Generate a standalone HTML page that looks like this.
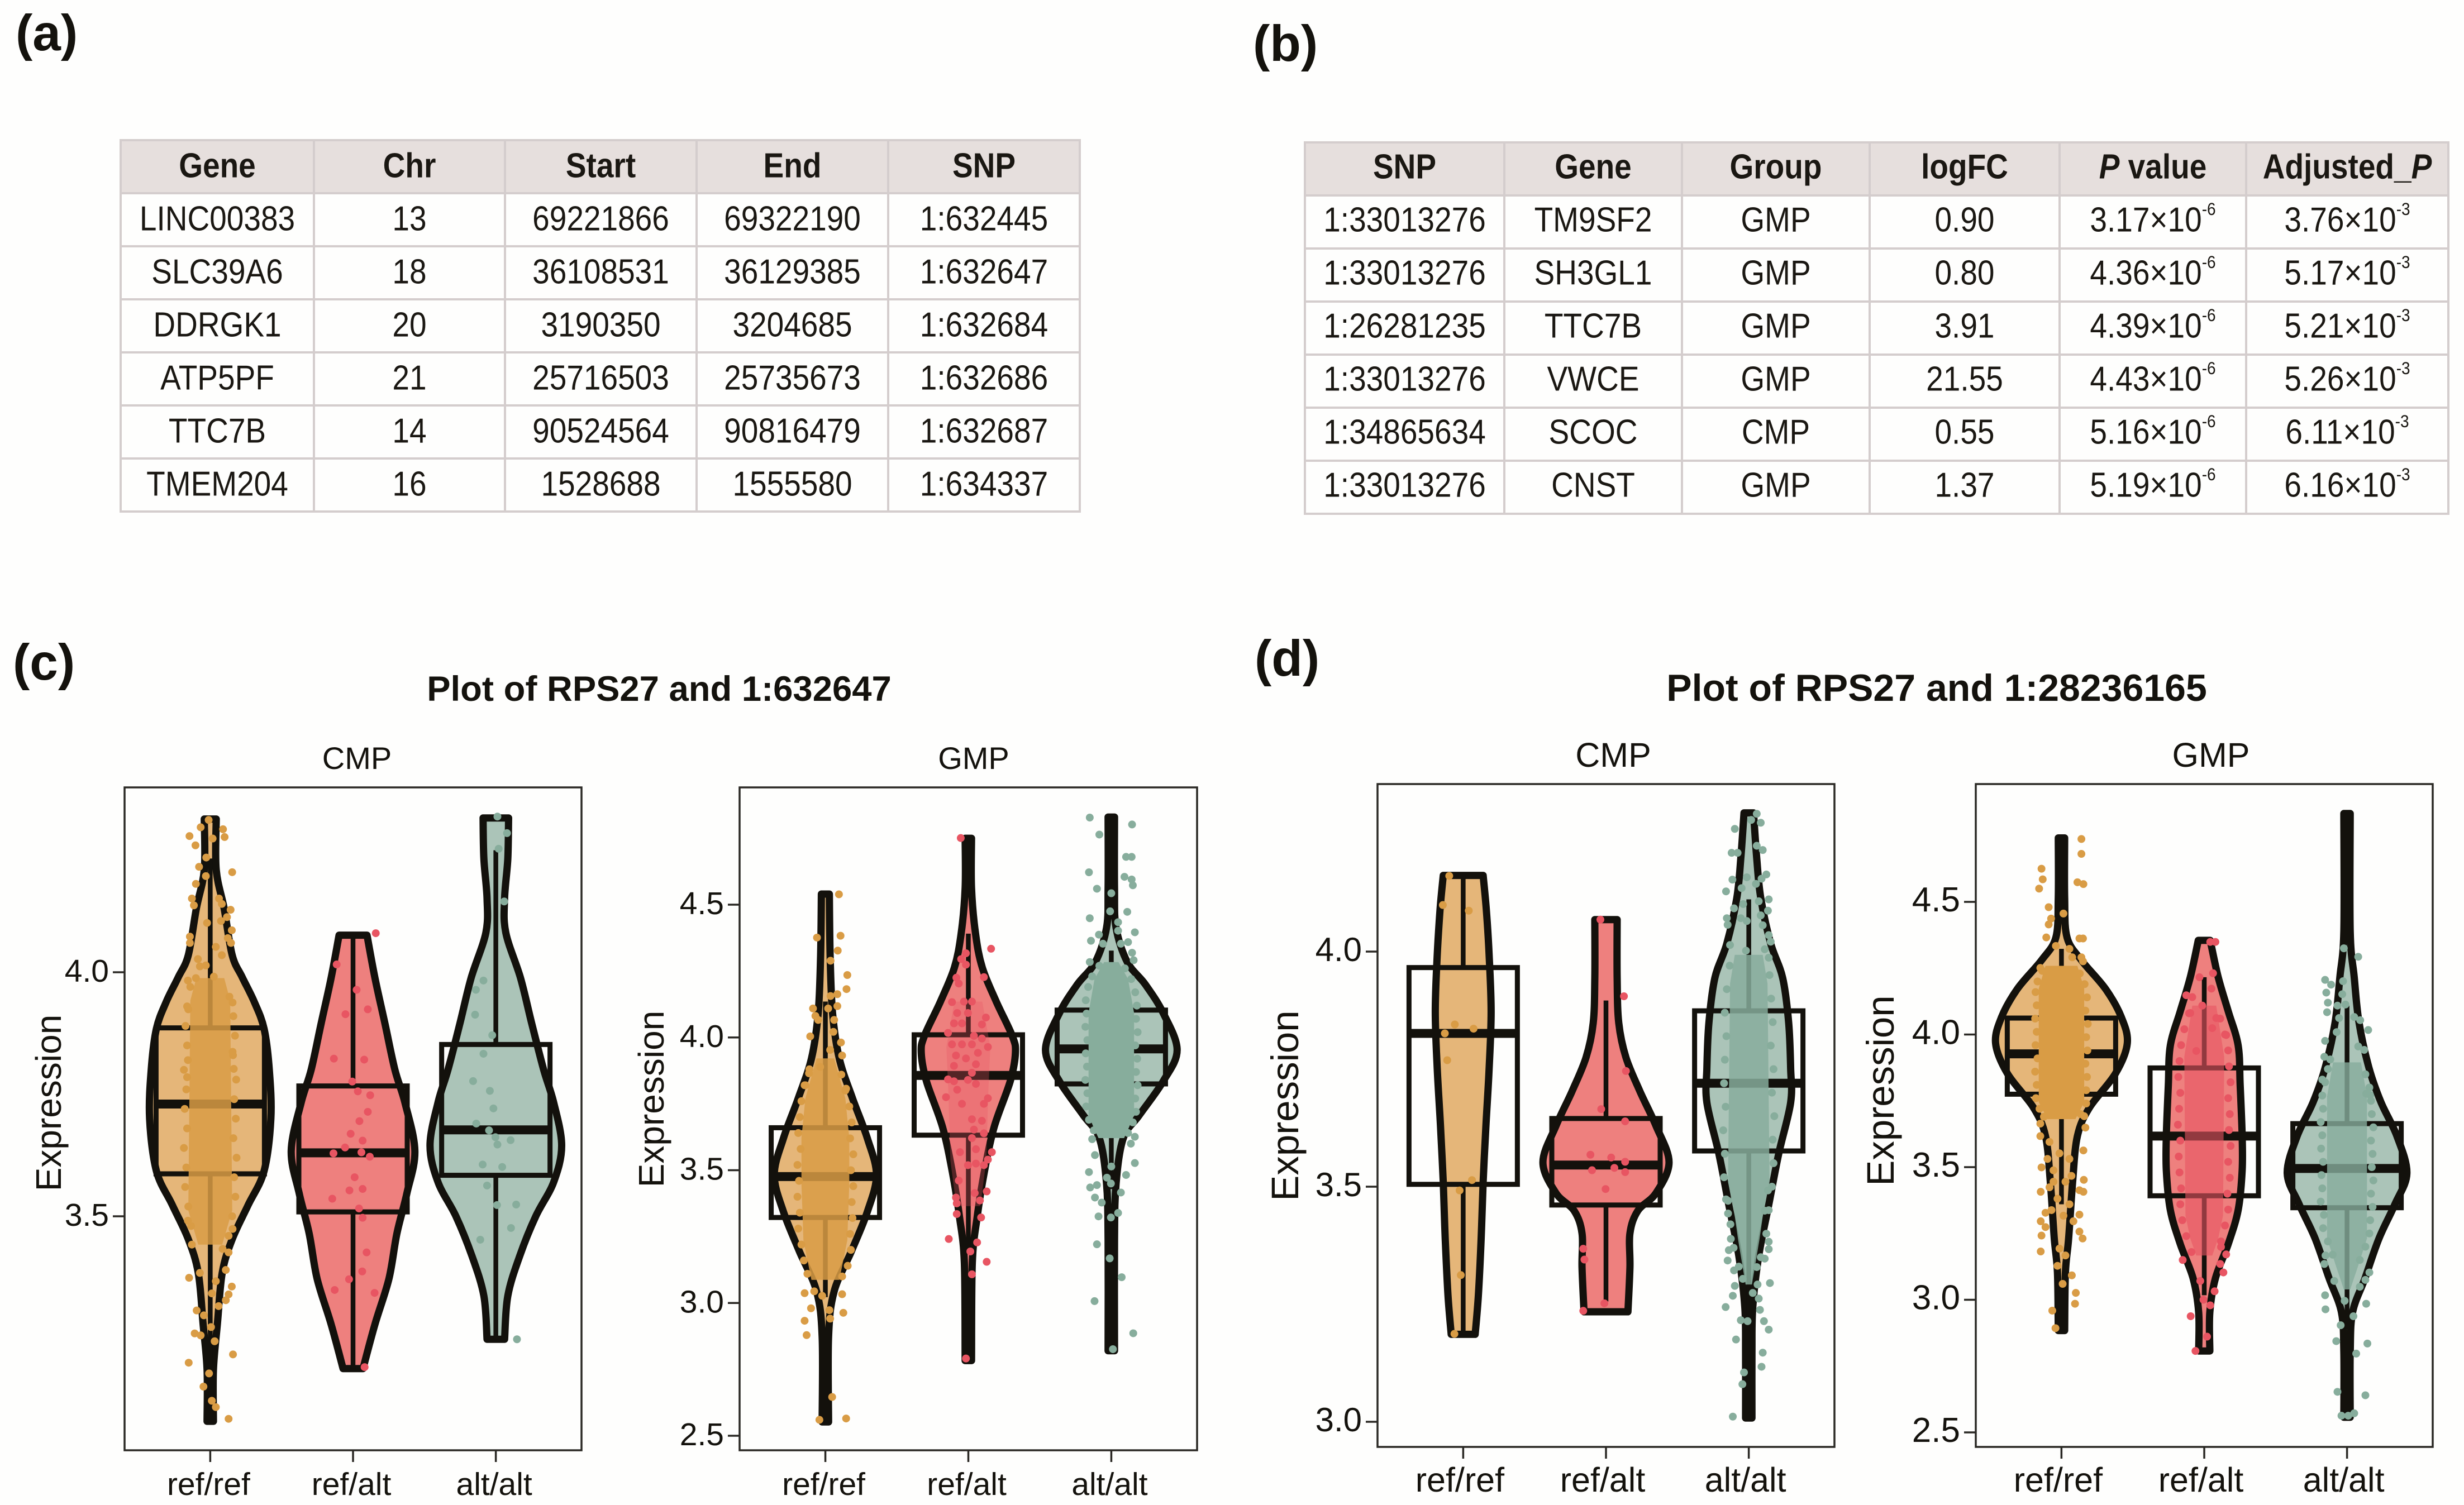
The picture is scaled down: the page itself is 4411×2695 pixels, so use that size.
<!DOCTYPE html>
<html lang="en">
<head>
<meta charset="utf-8">
<title>RPS27 eQTL tables and violin plots</title>
<style>
html,body{margin:0;padding:0;background:#fefefd;}
#page{position:relative;width:4411px;height:2695px;overflow:hidden;background:#fefefd;font-family:"Liberation Sans",sans-serif;color:#1a1712;}
table{position:absolute;table-layout:fixed;border-collapse:collapse;font-size:55px;text-align:center;}
th,td{border:4px solid #d4cdcd;padding:0;overflow:visible;white-space:nowrap;vertical-align:middle;}
th{background:#e6dfdd;font-size:55px;font-weight:bold;}
tr{height:95px;}
sup{font-size:28px;line-height:0;vertical-align:26px;}
.cell-text{display:inline-block;line-height:1;}
#table-a .cell-text{transform:translateY(-3px) scaleY(1.13);}
#table-b .cell-text{transform:translateY(-5px) scaleY(1.13);}
#chart{position:absolute;left:0;top:0;}
#chart text{font-family:"Liberation Sans",sans-serif;fill:#14120d;}
</style>
</head>
<body>
<div id="page">

<table id="table-a" style="left:214px;top:249px;width:1717px;height:668px;">
<colgroup><col style="width:346px"><col style="width:342px"><col style="width:343px"><col style="width:343px"><col style="width:343px"></colgroup>
<tr><th>Gene</th><th>Chr</th><th>Start</th><th>End</th><th>SNP</th></tr>
<tr><td>LINC00383</td><td>13</td><td>69221866</td><td>69322190</td><td>1:632445</td></tr>
<tr><td>SLC39A6</td><td>18</td><td>36108531</td><td>36129385</td><td>1:632647</td></tr>
<tr><td>DDRGK1</td><td>20</td><td>3190350</td><td>3204685</td><td>1:632684</td></tr>
<tr><td>ATP5PF</td><td>21</td><td>25716503</td><td>25735673</td><td>1:632686</td></tr>
<tr><td>TTC7B</td><td>14</td><td>90524564</td><td>90816479</td><td>1:632687</td></tr>
<tr><td>TMEM204</td><td>16</td><td>1528688</td><td>1555580</td><td>1:634337</td></tr>
</table>

<table id="table-b" style="left:2334px;top:253px;width:2047px;height:663px;">
<colgroup><col style="width:357px"><col style="width:318px"><col style="width:336px"><col style="width:340px"><col style="width:334px"><col style="width:362px"></colgroup>
<tr><th>SNP</th><th>Gene</th><th>Group</th><th>logFC</th><th><i>P</i> value</th><th>Adjusted_<i>P</i></th></tr>
<tr><td>1:33013276</td><td>TM9SF2</td><td>GMP</td><td>0.90</td><td>3.17×10<sup>-6</sup></td><td>3.76×10<sup>-3</sup></td></tr>
<tr><td>1:33013276</td><td>SH3GL1</td><td>GMP</td><td>0.80</td><td>4.36×10<sup>-6</sup></td><td>5.17×10<sup>-3</sup></td></tr>
<tr><td>1:26281235</td><td>TTC7B</td><td>GMP</td><td>3.91</td><td>4.39×10<sup>-6</sup></td><td>5.21×10<sup>-3</sup></td></tr>
<tr><td>1:33013276</td><td>VWCE</td><td>GMP</td><td>21.55</td><td>4.43×10<sup>-6</sup></td><td>5.26×10<sup>-3</sup></td></tr>
<tr><td>1:34865634</td><td>SCOC</td><td>CMP</td><td>0.55</td><td>5.16×10<sup>-6</sup></td><td>6.11×10<sup>-3</sup></td></tr>
<tr><td>1:33013276</td><td>CNST</td><td>GMP</td><td>1.37</td><td>5.19×10<sup>-6</sup></td><td>6.16×10<sup>-3</sup></td></tr>
</table>

<svg id="chart" width="4411" height="2695" viewBox="0 0 4411 2695" xmlns="http://www.w3.org/2000/svg">
<text x="28" y="90" font-size="91" font-weight="bold">(a)</text>
<text x="2243" y="109" font-size="91" font-weight="bold">(b)</text>
<text x="23" y="1217" font-size="91" font-weight="bold">(c)</text>
<text x="2246" y="1210" font-size="91" font-weight="bold">(d)</text>
<text x="1180" y="1255" font-size="63.4" font-weight="bold" text-anchor="middle">Plot of RPS27 and 1:632647</text>
<text x="3467" y="1255" font-size="68" font-weight="bold" text-anchor="middle">Plot of RPS27 and 1:28236165</text>
<text x="639" y="1377" font-size="56" text-anchor="middle">CMP</text>
<text x="1743" y="1377" font-size="56" text-anchor="middle">GMP</text>
<text x="2888" y="1373" font-size="61" text-anchor="middle">CMP</text>
<text x="3958" y="1373" font-size="61" text-anchor="middle">GMP</text>
<text transform="translate(109,1975) rotate(-90)" font-size="64" text-anchor="middle">Expression</text>
<text transform="translate(1188,1968) rotate(-90)" font-size="64" text-anchor="middle">Expression</text>
<text transform="translate(2324,1980) rotate(-90)" font-size="69" text-anchor="middle">Expression</text>
<text transform="translate(3390,1953) rotate(-90)" font-size="69" text-anchor="middle">Expression</text>
</svg>
</div>

<script>
/* ---------- shared categories ---------- */
const categories = ['ref/ref', 'ref/alt', 'alt/alt'];

/* ---------- axis ticks ---------- */
const c1Ticks = [4.0, 3.5];
const c1TickLabels = ['4.0', '3.5'];
const c2Ticks = [4.5, 4.0, 3.5, 3.0, 2.5];
const c2TickLabels = ['4.5', '4.0', '3.5', '3.0', '2.5'];
const d1Ticks = [4.0, 3.5, 3.0];
const d1TickLabels = ['4.0', '3.5', '3.0'];
const d2Ticks = [4.5, 4.0, 3.5, 3.0, 2.5];
const d2TickLabels = ['4.5', '4.0', '3.5', '3.0', '2.5'];

/* ---------- box statistics per panel (ref/ref, ref/alt, alt/alt) ---------- */
const c1Q3 = [3.886, 3.767, 3.852];
const c1Median = [3.73, 3.63, 3.677];
const c1Q1 = [3.587, 3.509, 3.584];
const c1WhiskerHigh = [4.233, 4.076, 4.25];
const c1WhiskerLow = [3.198, 3.188, 3.248];

const c2Q3 = [3.66, 4.01, 4.103];
const c2Median = [3.476, 3.857, 3.957];
const c2Q1 = [3.322, 3.632, 3.825];
const c2WhiskerHigh = [4.135, 4.391, 4.327];
const c2WhiskerLow = [3.022, 3.194, 3.429];

const d1Q3 = [3.966, 3.645, 3.874];
const d1Median = [3.826, 3.546, 3.72];
const d1Q1 = [3.505, 3.461, 3.576];
const d1WhiskerHigh = [4.162, 3.896, 4.111];
const d1WhiskerLow = [3.186, 3.256, 3.208];

const d2Q3 = [4.062, 3.874, 3.664];
const d2Median = [3.927, 3.617, 3.495];
const d2Q1 = [3.775, 3.392, 3.347];
const d2WhiskerHigh = [4.323, 4.216, 4.109];
const d2WhiskerLow = [3.36, 3.017, 2.889];

/* ---------- violin density profiles ---------- */
const c1aProfileV = [4.314, 4.21, 4.13, 4.035, 3.99, 3.94, 3.884, 3.80, 3.70, 3.593, 3.523, 3.453, 3.384, 3.28, 3.186, 3.08];
const c1aProfileD = [15, 15, 35, 55, 80, 110, 135, 148, 152, 135, 95, 55, 30, 18, 8, 8];
const c1bProfileV = [4.076, 3.988, 3.895, 3.80, 3.733, 3.634, 3.547, 3.465, 3.372, 3.279, 3.188];
const c1bProfileD = [35, 55, 80, 105, 130, 155, 135, 110, 90, 55, 25];
const c1cProfileV = [4.316, 4.233, 4.151, 4.081, 3.988, 3.895, 3.80, 3.733, 3.645, 3.57, 3.50, 3.419, 3.337, 3.248];
const c1cProfileD = [32, 30, 22, 25, 62, 90, 120, 145, 165, 145, 100, 60, 30, 22];

const c2aProfileV = [4.54, 4.306, 4.092, 3.92, 3.771, 3.621, 3.482, 3.343, 3.194, 3.044, 2.873, 2.552];
const c2aProfileD = [10, 12, 18, 35, 68, 105, 128, 105, 65, 22, 8, 8];
const c2bProfileV = [4.75, 4.563, 4.391, 4.263, 4.135, 4.006, 3.942, 3.835, 3.664, 3.493, 3.322, 3.151, 2.783];
const c2bProfileD = [8, 8, 18, 35, 70, 110, 118, 105, 65, 40, 22, 10, 8];
const c2cProfileV = [4.83, 4.56, 4.413, 4.284, 4.2, 4.092, 3.953, 3.835, 3.707, 3.621, 3.45, 3.236, 2.82];
const c2cProfileD = [8, 8, 12, 40, 85, 130, 165, 130, 70, 30, 12, 8, 8];

const d1aProfileV = [4.162, 4.089, 3.993, 3.872, 3.751, 3.63, 3.51, 3.389, 3.268, 3.186];
const d1aProfileD = [50, 58, 65, 70, 65, 57, 50, 45, 38, 30];
const d1bProfileV = [4.068, 3.944, 3.848, 3.775, 3.703, 3.63, 3.552, 3.486, 3.449, 3.401, 3.329, 3.234];
const d1bProfileD = [28, 28, 32, 50, 85, 125, 158, 125, 80, 60, 60, 55];
const d1cProfileV = [4.295, 4.198, 4.114, 4.017, 3.944, 3.848, 3.751, 3.679, 3.57, 3.461, 3.353, 3.244, 3.147, 3.008];
const d1cProfileD = [12, 20, 30, 55, 85, 100, 105, 105, 75, 50, 25, 10, 8, 8];

const d2aProfileV = [4.741, 4.516, 4.366, 4.28, 4.173, 4.066, 3.966, 3.852, 3.724, 3.617, 3.445, 3.231, 3.103, 2.884];
const d2aProfileD = [8, 8, 14, 50, 110, 150, 165, 135, 70, 40, 28, 18, 10, 8];
const d2bProfileV = [4.355, 4.216, 4.088, 3.959, 3.809, 3.617, 3.488, 3.338, 3.21, 3.081, 2.953, 2.807];
const d2bProfileD = [15, 35, 60, 85, 90, 95, 95, 85, 60, 28, 14, 14];
const d2cProfileV = [4.833, 4.388, 4.216, 4.045, 3.874, 3.745, 3.617, 3.477, 3.36, 3.231, 3.081, 2.953, 2.803, 2.557];
const d2cProfileD = [8, 8, 18, 30, 55, 85, 125, 150, 120, 80, 45, 14, 8, 8];

/* ---------- heavily overplotted jitter bands (value, half spread) ---------- */
const c1aBandV = [3.988, 3.942, 3.512, 3.442];
const c1aBandW = [35, 50, 55, 30];
const c2aBandV = [3.921, 3.771, 3.621, 3.45, 3.236, 3.087];
const c2aBandW = [22, 50, 60, 60, 55, 35];
const c2bBandV = [4.135, 3.964, 3.793, 3.536, 3.365];
const c2bBandW = [35, 55, 50, 45, 30];
const c2cBandV = [4.284, 4.22, 4.092, 3.707, 3.653, 3.621];
const c2cBandW = [18, 42, 57, 57, 42, 32];
const d1cBandV = [3.993, 3.932, 3.51, 3.449, 3.389, 3.292];
const d1cBandW = [35, 47, 52, 37, 27, 8];
const d2aBandV = [4.259, 4.173, 3.745, 3.681];
const d2aBandW = [40, 57, 57, 35];
const d2bBandV = [4.109, 3.916, 3.317, 3.231, 3.167];
const d2bBandW = [30, 50, 47, 35, 20];
const d2cBandV = [3.895, 3.767, 3.231, 3.124, 3.039];
const d2cBandW = [35, 50, 50, 27, 8];

/* ---------- individually visible jitter points ---------- */
const c1aPtV = [4.312,4.297,4.293,4.279,4.274,4.277,4.26,4.235,4.216,4.205,4.197,4.181,4.151,4.137,4.151,4.14,4.128,4.113,4.101,4.105,4.086,4.07,4.073,4.06,4.06,4.052,4.035,4.027,4.014,4.012,3.983,3.991,3.988,3.938,3.924,3.837,3.82,3.802,3.785,3.474,3.491,3.442,3.433,3.426,3.374,3.384,3.367,3.39,3.356,3.342,3.34,3.328,3.307,3.297,3.316,3.26,3.256,3.273,3.244,3.2,3.217,3.178,3.151,3.122,3.109,3.085];
const c1aPtJ = [-4,-24,32,-52,6,36,-37,-10,-28,55,-11,-36,-46,-41,22,29,51,42,-8,27,54,44,-51,-51,52,14,29,-31,-11,-26,-56,9,-36,56,-55,56,-56,59,-58,56,-56,-46,31,46,-53,-26,14,39,54,4,46,39,-34,-16,21,-39,-24,2,11,-54,57,-3,-17,4,14,46];
const c1aEdgeV = [3.97,3.93,3.89,3.85,3.8,3.76,3.72,3.68,3.64,3.6,3.56,3.52,3.48,3.95,3.91,3.87,3.83,3.78,3.74,3.7,3.66,3.62,3.58,3.54,3.5,3.46];
const c1aEdgeJ = [-50,-58,-62,-58,-66,-60,-64,-58,-66,-60,-63,-55,-48,48,58,62,57,65,60,64,58,66,60,63,55,46];
const c1bPtV = [4.08,4.016,3.964,3.924,3.914,3.823,3.821,3.776,3.756,3.748,3.714,3.695,3.669,3.655,3.641,3.629,3.631,3.622,3.58,3.553,3.556,3.536,3.516,3.497,3.426,3.387,3.371,3.349,3.343,3.191];
const c1bPtJ = [57,-41,9,37,-19,-48,28,-2,12,43,37,16,-6,24,-20,-49,21,42,4,-9,24,-52,15,24,34,23,-10,-46,54,29];
const c1cPtV = [4.319,4.285,4.253,4.145,3.983,3.964,3.913,3.871,3.833,3.777,3.757,3.721,3.69,3.676,3.662,3.656,3.647,3.606,3.601,3.563,3.523,3.524,3.476,3.452,3.248];
const c1cPtJ = [4,28,7,21,-31,-50,-52,-9,-31,-57,-15,-6,-49,-17,-1,37,4,-33,16,-22,3,51,38,-39,53];

const c2aPtV = [4.539,4.376,4.383,4.289,4.327,4.235,4.182,4.156,4.163,4.109,4.118,4.109,4.066,4.081,4.066,4.004,4.021,3.981,3.953,3.889,3.932,3.865,3.807,3.82,3.037,3.044,3.033,3.027,2.98,2.933,2.973,2.963,2.941,2.879,2.646,2.56,2.565];
const c2aPtJ = [34,-21,38,13,31,55,53,13,30,-31,30,7,-18,-25,22,-38,20,39,12,-13,42,-41,52,-50,-52,-28,42,-8,-36,-52,10,45,12,-47,17,-15,52];
const c2aEdgeV = [3.88,3.82,3.76,3.7,3.64,3.58,3.52,3.46,3.4,3.34,3.28,3.22,3.16,3.11,3.86,3.8,3.74,3.68,3.62,3.56,3.5,3.44,3.38,3.32,3.26,3.2,3.14,3.1];
const c2aEdgeJ = [-40,-52,-60,-64,-68,-62,-70,-66,-70,-64,-68,-60,-54,-45,40,50,60,66,62,70,64,70,66,68,62,64,56,42];
const c2bPtV = [4.751,4.334,4.317,4.295,4.274,4.225,4.227,4.203,4.133,4.135,4.135,4.092,4.092,4.075,4.049,4.053,4.053,4.006,4.017,3.996,3.974,3.974,3.974,3.964,3.942,3.932,3.921,3.893,3.899,3.867,3.842,3.835,3.84,3.825,3.775,3.803,3.75,3.771,3.75,3.692,3.686,3.653,3.639,3.621,3.579,3.568,3.568,3.519,3.54,3.525,3.519,3.461,3.42,3.414,3.386,3.397,3.375,3.335,3.322,3.241,3.228,3.194,3.155,3.108,2.791];
const c2bPtJ = [-19,57,-6,-18,-6,-30,39,-24,-41,-11,9,-28,-1,44,34,-36,-16,14,-51,34,-41,-16,9,49,24,-31,-6,-36,19,9,-51,-36,-1,19,-56,-28,-16,49,39,9,34,14,39,9,19,-21,59,-1,49,19,39,-24,46,16,29,-31,-29,-29,32,-49,22,5,46,9,-6];
const c2cPtV = [4.828,4.802,4.764,4.68,4.68,4.622,4.605,4.595,4.573,4.56,4.543,4.449,4.475,4.473,4.434,4.387,4.396,4.402,4.364,4.359,4.353,4.353,4.319,4.284,4.291,3.617,3.626,3.557,3.6,3.493,3.527,3.482,3.514,3.472,3.435,3.444,3.45,3.416,3.397,3.378,3.326,3.339,3.322,3.221,3.168,3.097,3.007,2.886,2.826];
const c2cPtJ = [-54,52,-30,37,51,-56,33,51,54,-36,0,-54,-3,40,17,-31,59,17,-51,42,-21,24,52,-54,56,-48,59,-41,49,-56,59,37,0,-11,-53,-36,-1,24,-41,-24,-32,17,-1,-36,-4,26,-42,55,4];
const c2cEdgeV = [4.27,4.23,4.19,4.14,4.09,4.04,3.99,3.94,3.89,3.84,3.79,3.74,3.69,3.65,4.26,4.22,4.17,4.12,4.07,4.02,3.97,3.92,3.87,3.82,3.77,3.72,3.68,3.64];
const c2cEdgeJ = [-30,-48,-58,-64,-62,-65,-60,-64,-61,-65,-60,-63,-56,-44,34,50,60,64,62,66,60,65,62,66,60,62,54,42];

const d1aPtV = [4.161,4.099,4.087,3.845,3.836,3.826,3.769,3.514,3.492,3.312,3.187];
const d1aPtJ = [-35,-51,14,-21,26,-46,-40,22,-9,-6,-22];
const d1bPtV = [4.068,3.905,3.746,3.665,3.639,3.568,3.562,3.553,3.535,3.54,3.531,3.495,3.368,3.345,3.252,3.236];
const d1bPtJ = [-14,45,50,-12,48,-39,13,48,-35,21,48,-1,-57,-54,-4,-57];
const d1cPtV = [4.293,4.28,4.274,4.261,4.225,4.216,4.21,4.21,4.158,4.164,4.153,4.155,4.144,4.128,4.135,4.111,4.101,4.107,4.092,4.087,4.071,4.071,4.077,4.057,4.065,4.056,4.035,4.021,4.014,4.005,4.002,3.987,3.244,3.238,3.216,3.214,3.214,3.196,3.175,3.147,3.117,3.105,3.08,3.011,3.473,3.492,3.443,3.449,3.389,3.383,3.365,3.367,3.343,3.347,3.322,3.329,3.304,3.295,3.289,3.292,3.274,3.262,3.268];
const d1cPtJ = [20,6,30,-35,20,35,-43,-28,-5,44,-41,32,18,-57,-18,50,-14,25,-37,48,-55,-20,30,-53,-5,35,50,55,-47,40,-7,50,-58,28,-20,-3,38,50,-32,35,32,-12,-16,-40,-57,48,-52,40,-45,50,-50,50,-53,40,-37,20,-15,53,-35,22,10,25,-40];
const d1cEdgeV = [3.97,3.92,3.87,3.82,3.77,3.72,3.67,3.62,3.57,3.52,3.47,3.42,3.37,3.33,3.95,3.9,3.85,3.8,3.75,3.7,3.65,3.6,3.55,3.5,3.45,3.4,3.35];
const d1cEdgeJ = [-48,-55,-60,-56,-60,-62,-58,-64,-60,-62,-52,-46,-38,-25,52,56,60,55,62,58,64,60,62,58,50,44,30];

const d2aPtV = [4.737,4.681,4.625,4.585,4.55,4.574,4.567,4.48,4.456,4.437,4.415,4.366,4.362,4.362,4.334,4.323,4.291,4.291,4.276,4.251,3.692,3.664,3.649,3.617,3.563,3.499,3.452,3.407,3.413,3.407,3.328,3.321,3.296,3.274,3.296,3.242,3.257,3.231,3.182,3.193,3.167,3.128,3.092,3.06,3.026,2.985,2.959,2.893,3.595,3.552,3.531,3.488,3.445,3.424,3.381,3.36,3.338,3.317,3.445,3.467,3.531];
const d2aPtJ = [50,50,-50,-47,-56,40,55,-32,5,-26,-32,-38,45,54,-14,20,27,50,54,-53,57,-53,60,-53,55,-50,56,-52,45,55,-40,45,-52,-40,30,-50,45,53,-52,-5,10,-10,26,3,36,34,-23,-15,-30,-5,20,-20,10,-30,-10,20,-25,5,-20,25,-35];
const d2aEdgeV = [4.24,4.2,4.16,4.11,4.06,4.01,3.96,3.91,3.86,3.81,3.76,3.72,3.69,4.23,4.19,4.14,4.09,4.04,3.99,3.94,3.89,3.84,3.79,3.74,3.7];
const d2aEdgeJ = [-48,-60,-65,-62,-66,-62,-65,-60,-66,-62,-64,-55,-44,46,58,64,60,66,62,65,60,64,62,62,48];
const d2bPtV = [4.349,4.349,4.231,4.216,4.173,4.148,4.141,4.109,4.081,4.062,3.998,4.024,3.938,3.15,3.171,3.135,3.199,3.071,3.103,3.032,3.0,2.979,2.938,2.861,2.807];
const d2bPtJ = [28,15,22,-12,18,-45,-30,-5,-35,30,55,20,-20,-54,55,40,42,-10,48,26,-2,15,-34,7,-22];
const d2bEdgeV = [4.08,4.02,3.96,3.9,3.84,3.78,3.72,3.66,3.6,3.54,3.48,3.42,3.36,3.3,3.24,3.18,4.06,4.0,3.94,3.88,3.82,3.76,3.7,3.64,3.58,3.52,3.46,3.4,3.34,3.28,3.22];
const d2bEdgeJ = [-38,-50,-58,-62,-65,-60,-63,-66,-60,-64,-62,-58,-60,-55,-45,-32,40,52,60,62,66,60,64,62,66,60,64,58,60,52,42];
const d2cPtV = [4.325,4.293,4.206,4.188,4.201,4.158,4.152,4.12,4.109,4.113,4.084,4.066,4.054,4.062,4.017,4.009,3.976,3.955,3.942,3.916,3.906,3.777,3.83,3.771,3.167,3.135,3.103,3.075,3.071,3.049,3.017,2.964,2.996,2.985,2.938,2.904,2.844,2.835,2.797,2.653,2.64,2.563,2.572,2.563];
const d2cPtJ = [-8,28,-55,-40,-10,-52,-12,-48,-24,-4,-50,18,33,-20,53,-26,-55,28,43,-57,-42,48,-62,58,-54,-57,56,46,-32,32,-55,-54,-6,48,16,-16,-27,51,23,-24,46,-14,18,3];
const d2cEdgeV = [3.87,3.82,3.77,3.72,3.67,3.62,3.57,3.52,3.47,3.42,3.37,3.32,3.27,3.22,3.17,3.85,3.8,3.75,3.7,3.65,3.6,3.55,3.5,3.45,3.4,3.35,3.3,3.25,3.2,3.15];
const d2cEdgeJ = [-48,-55,-62,-60,-66,-62,-65,-60,-64,-62,-66,-58,-60,-48,-36,46,56,60,62,66,60,64,62,66,60,64,58,56,46,32];

/* ---------- series colours ---------- */
const fillColors = ['#e5b679', '#ee807e', '#abc4b8'];
const pointColors = ['#d99c45', '#e85562', '#87ad9c'];
const INK = '#13110c';
const NS = 'http://www.w3.org/2000/svg';
const svg = document.getElementById('chart');

/* table text is taller and narrower than Liberation in the source figure */
document.querySelectorAll('th, td').forEach(function (cell) {
  const span = document.createElement('span');
  span.className = 'cell-text';
  
  
  while (cell.firstChild) span.appendChild(cell.firstChild);
  cell.appendChild(span);
});

function make(tag, attrs, parent) {
  const el = document.createElementNS(NS, tag);
  for (const k in attrs) el.setAttribute(k, attrs[k]);
  parent.appendChild(el);
  return el;
}

/* smooth path through a list of [x, y] using Catmull-Rom segments */
function smooth(pts) {
  let d = '';
  for (let i = 0; i < pts.length - 1; i++) {
    const p0 = pts[Math.max(i - 1, 0)], p1 = pts[i], p2 = pts[i + 1], p3 = pts[Math.min(i + 2, pts.length - 1)];
    const c1x = p1[0] + (p2[0] - p0[0]) / 6, c1y = p1[1] + (p2[1] - p0[1]) / 6;
    const c2x = p2[0] - (p3[0] - p1[0]) / 6, c2y = p2[1] - (p3[1] - p1[1]) / 6;
    d += ' C' + c1x.toFixed(1) + ' ' + c1y.toFixed(1) + ' ' + c2x.toFixed(1) + ' ' + c2y.toFixed(1) + ' ' + p2[0].toFixed(1) + ' ' + p2[1].toFixed(1);
  }
  return d;
}

function drawPanel(p) {
  const g = make('g', {}, svg);
  
  

  const width = p.right - p.left;
  const xScale = function (i) { return p.left + (i + 0.6) * width / 3.2; };
  const offsetScale = function (d) { return d * 0.7143; };
  const yScale = function (v) { return p.anchorY - (v - p.anchorV) * p.pxPerUnit; };

  const frame = make('rect', { x: p.left, y: p.top, width: width, height: p.bottom - p.top, fill: 'none', stroke: '#2a2824', 'stroke-width': 3.5 }, g);
  
  

  p.ticks.forEach(function (t, i) {
    const y = yScale(t);
    const tick = make('line', { x1: p.left - 21, x2: p.left, y1: y, y2: y, stroke: '#2a2824', 'stroke-width': 3.5 }, g);
    
    
    const lab = make('text', { x: p.left - 28, y: y + 17, 'font-size': p.tickFont, 'text-anchor': 'end' }, g);
    lab.textContent = p.tickLabels[i];
    
    
  });

  categories.forEach(function (c, i) {
    const cx = xScale(i);
    const tick = make('line', { x1: cx, x2: cx, y1: p.bottom, y2: p.bottom + 21, stroke: '#2a2824', 'stroke-width': 3.5 }, g);
    
    
    const lab = make('text', { x: cx + p.labelDx, y: p.bottom + 80, 'font-size': p.labelFont, 'text-anchor': 'middle' }, g);
    lab.textContent = c;
    
    

    const vio = p.violins[i];
    const right = vio.profileV.map(function (v, k) { return [cx + offsetScale(vio.profileD[k]), yScale(v)]; });
    const left = vio.profileV.map(function (v, k) { return [cx - offsetScale(vio.profileD[k]), yScale(v)]; }).reverse();
    const d = 'M' + right[0][0].toFixed(1) + ' ' + right[0][1].toFixed(1) + smooth(right) +
      ' L' + left[0][0].toFixed(1) + ' ' + left[0][1].toFixed(1) + smooth(left) + ' Z';
    const shape = make('path', { d: d, fill: fillColors[i], stroke: INK, 'stroke-width': 13, 'stroke-linejoin': 'round' }, g);
    
    

    const wHigh = make('line', { x1: cx, x2: cx, y1: yScale(p.whiskerHigh[i]), y2: yScale(p.q3[i]), stroke: INK, 'stroke-width': 8.5 }, g);
    
    
    const wLow = make('line', { x1: cx, x2: cx, y1: yScale(p.q1[i]), y2: yScale(p.whiskerLow[i]), stroke: INK, 'stroke-width': 8.5 }, g);
    
    

    const box = make('rect', { x: cx - 97, y: yScale(p.q3[i]), width: 194, height: yScale(p.q1[i]) - yScale(p.q3[i]), fill: 'none', stroke: INK, 'stroke-width': 9 }, g);
    
    
    const med = make('line', { x1: cx - 97, x2: cx + 97, y1: yScale(p.median[i]), y2: yScale(p.median[i]), stroke: INK, 'stroke-width': 16 }, g);
    
    

    if (vio.bandV.length) {
      const bandR = vio.bandV.map(function (v, k) { return (cx + offsetScale(vio.bandW[k])).toFixed(1) + ',' + yScale(v).toFixed(1); });
      const bandL = vio.bandV.map(function (v, k) { return (cx - offsetScale(vio.bandW[k])).toFixed(1) + ',' + yScale(v).toFixed(1); }).reverse();
      const band = make('polygon', { points: bandR.concat(bandL).join(' '), fill: pointColors[i], opacity: vio.bandAlpha }, g);
      
      
    }

    vio.ptV.forEach(function (v, k) {
      const dot = make('circle', { cx: cx + offsetScale(vio.ptJ[k]), cy: yScale(v), r: 7, fill: pointColors[i] }, g);
      
      
    });
  });
}

drawPanel({
  id: 'c-cmp', left: 223, right: 1041, top: 1410, bottom: 2597, anchorV: 4.0, anchorY: 1741, pxPerUnit: 874, tickFont: 57, labelFont: 57, labelDx: -3,
  ticks: c1Ticks, tickLabels: c1TickLabels, q3: c1Q3, median: c1Median, q1: c1Q1, whiskerHigh: c1WhiskerHigh, whiskerLow: c1WhiskerLow,
  violins: [
    { profileV: c1aProfileV, profileD: c1aProfileD, bandV: c1aBandV, bandW: c1aBandW, bandAlpha: 0.85, ptV: c1aPtV.concat(c1aEdgeV), ptJ: c1aPtJ.concat(c1aEdgeJ) },
    { profileV: c1bProfileV, profileD: c1bProfileD, bandV: [], bandW: [], bandAlpha: 0, ptV: c1bPtV, ptJ: c1bPtJ },
    { profileV: c1cProfileV, profileD: c1cProfileD, bandV: [], bandW: [], bandAlpha: 0, ptV: c1cPtV, ptJ: c1cPtJ }
  ]
});
drawPanel({
  id: 'c-gmp', left: 1324, right: 2143, top: 1410, bottom: 2597, anchorV: 4.5, anchorY: 1620, pxPerUnit: 475.5, tickFont: 57, labelFont: 57, labelDx: -3,
  ticks: c2Ticks, tickLabels: c2TickLabels, q3: c2Q3, median: c2Median, q1: c2Q1, whiskerHigh: c2WhiskerHigh, whiskerLow: c2WhiskerLow,
  violins: [
    { profileV: c2aProfileV, profileD: c2aProfileD, bandV: c2aBandV, bandW: c2aBandW, bandAlpha: 0.85, ptV: c2aPtV.concat(c2aEdgeV), ptJ: c2aPtJ.concat(c2aEdgeJ) },
    { profileV: c2bProfileV, profileD: c2bProfileD, bandV: c2bBandV, bandW: c2bBandW, bandAlpha: 0.3, ptV: c2bPtV, ptJ: c2bPtJ },
    { profileV: c2cProfileV, profileD: c2cProfileD, bandV: c2cBandV, bandW: c2cBandW, bandAlpha: 1, ptV: c2cPtV.concat(c2cEdgeV), ptJ: c2cPtJ.concat(c2cEdgeJ) }
  ]
});
drawPanel({
  id: 'd-cmp', left: 2466, right: 3284, top: 1404, bottom: 2591, anchorV: 4.0, anchorY: 1704, pxPerUnit: 842, tickFont: 60, labelFont: 61, labelDx: -6,
  ticks: d1Ticks, tickLabels: d1TickLabels, q3: d1Q3, median: d1Median, q1: d1Q1, whiskerHigh: d1WhiskerHigh, whiskerLow: d1WhiskerLow,
  violins: [
    { profileV: d1aProfileV, profileD: d1aProfileD, bandV: [], bandW: [], bandAlpha: 0, ptV: d1aPtV, ptJ: d1aPtJ },
    { profileV: d1bProfileV, profileD: d1bProfileD, bandV: [], bandW: [], bandAlpha: 0, ptV: d1bPtV, ptJ: d1bPtJ },
    { profileV: d1cProfileV, profileD: d1cProfileD, bandV: d1cBandV, bandW: d1cBandW, bandAlpha: 0.85, ptV: d1cPtV.concat(d1cEdgeV), ptJ: d1cPtJ.concat(d1cEdgeJ) }
  ]
});
drawPanel({
  id: 'd-gmp', left: 3537, right: 4355, top: 1404, bottom: 2591, anchorV: 4.5, anchorY: 1615, pxPerUnit: 475, tickFont: 62, labelFont: 61, labelDx: -6,
  ticks: d2Ticks, tickLabels: d2TickLabels, q3: d2Q3, median: d2Median, q1: d2Q1, whiskerHigh: d2WhiskerHigh, whiskerLow: d2WhiskerLow,
  violins: [
    { profileV: d2aProfileV, profileD: d2aProfileD, bandV: d2aBandV, bandW: d2aBandW, bandAlpha: 1, ptV: d2aPtV.concat(d2aEdgeV), ptJ: d2aPtJ.concat(d2aEdgeJ) },
    { profileV: d2bProfileV, profileD: d2bProfileD, bandV: d2bBandV, bandW: d2bBandW, bandAlpha: 0.6, ptV: d2bPtV.concat(d2bEdgeV), ptJ: d2bPtJ.concat(d2bEdgeJ) },
    { profileV: d2cProfileV, profileD: d2cProfileD, bandV: d2cBandV, bandW: d2cBandW, bandAlpha: 0.8, ptV: d2cPtV.concat(d2cEdgeV), ptJ: d2cPtJ.concat(d2cEdgeJ) }
  ]
});
</script>
</body>
</html>
